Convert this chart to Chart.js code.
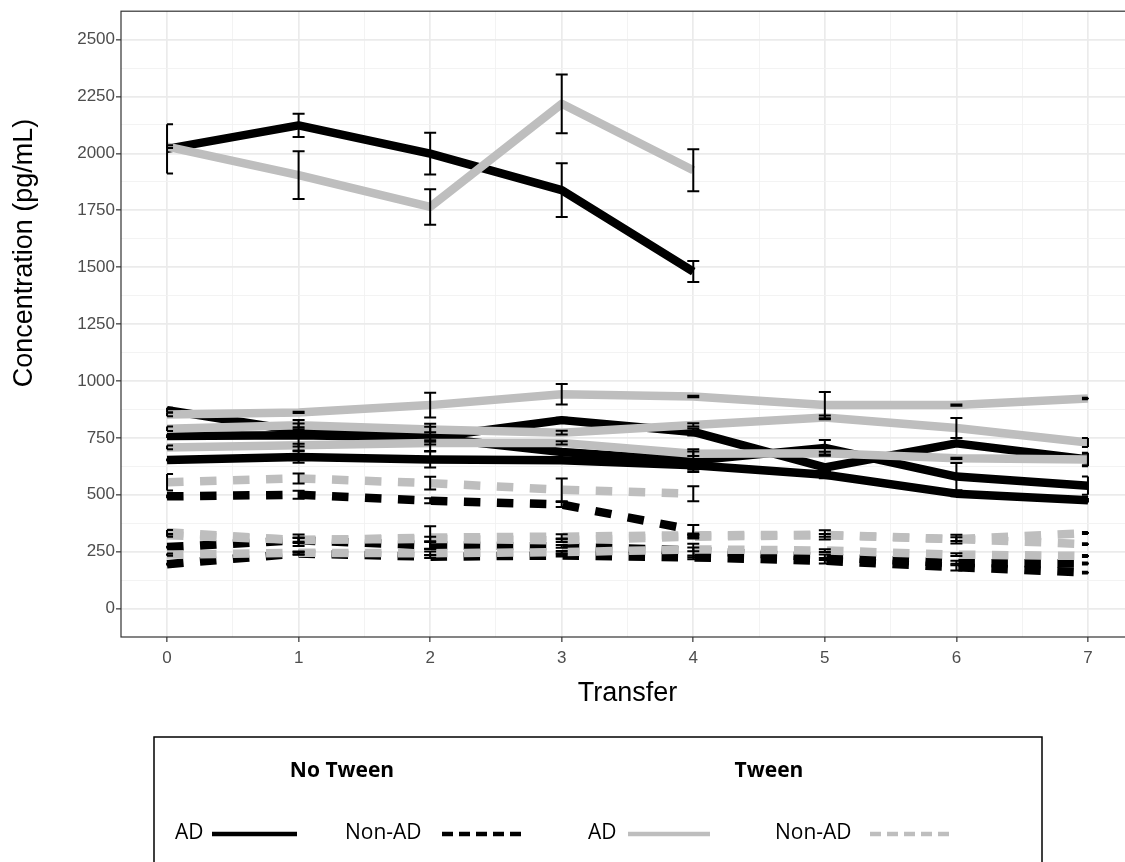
<!DOCTYPE html>
<html>
<head>
<meta charset="utf-8">
<script src="https://cdn.jsdelivr.net/npm/chart.js@4.4.1/dist/chart.umd.min.js"></script>
<style>
  html, body { margin: 0; padding: 0; background: #fff; overflow: hidden; }
  #conc-chart { display: block; }
</style>
</head>
<body>
<canvas id="conc-chart" width="1134" height="862"></canvas>
<script>
// Transfer numbers along the x axis
let transfers = [0, 1, 2, 3, 4, 5, 6, 7]

// No Tween, AD samples (black solid)
let noTweenAD1 = [2020, 2123, 1999, 1839, 1481]
let noTweenAD2 = [872, 780, 752, 828, 776, 620, 726, 655]
let noTweenAD3 = [758, 762, 752, 688, 650, 706, 580, 540]
let noTweenAD4 = [653, 666, 655, 652, 630, 588, 505, 476]

// Tween, AD samples (grey solid)
let tweenAD1 = [2030, 1905, 1765, 2218, 1926]
let tweenAD2 = [853, 862, 894, 942, 932, 894, 894, 923]
let tweenAD3 = [790, 805, 787, 773, 807, 840, 793, 730]
let tweenAD4 = [708, 718, 727, 728, 680, 683, 660, 655]

// No Tween, Non-AD samples (black dashed)
let noTweenNonAD1 = [493, 500, 474, 457, 345]
let noTweenNonAD2 = [270, 300, 278, 273, 255, 225, 200, 198]
let noTweenNonAD3 = [195, 242, 228, 233, 225, 210, 182, 158]

// Tween, Non-AD samples (grey dashed)
let tweenNonAD1 = [555, 572, 551, 522, 505]
let tweenNonAD2 = [335, 300, 312, 316, 322, 324, 305, 332]
let tweenNonAD3 = [322, 302, 306, 300, 316, 322, 305, 283]
let tweenNonAD4 = [237, 245, 243, 248, 260, 255, 237, 231]

// Standard deviations (half length of each error bar)
let noTweenAD1Sd = [108, 51, 92, 118, 46]
let noTweenAD2Sd = [10, 8, 12, 10, 15, 15, 8, 30]
let noTweenAD3Sd = [8, 67, 60, 8, 50, 35, 60, 40]
let noTweenAD4Sd = [6, 25, 35, 8, 20, 15, 12, 10]
let tweenAD1Sd = [6, 105, 78, 129, 92]
let tweenAD2Sd = [8, 3, 54, 45, 3, 58, 3, 3]
let tweenAD3Sd = [10, 8, 12, 8, 7, 8, 44, 20]
let tweenAD4Sd = [8, 6, 6, 7, 10, 6, 3, 25]
let noTweenNonAD1Sd = [8, 18, 11, 11, 22]
let noTweenNonAD2Sd = [6, 25, 15, 6, 30, 12, 10, 4]
let noTweenNonAD3Sd = [6, 6, 6, 4, 8, 12, 15, 4]
let tweenNonAD1Sd = [36, 22, 28, 50, 33]
let tweenNonAD2Sd = [10, 12, 50, 11, 8, 20, 19, 4]
let tweenNonAD3Sd = [6, 8, 10, 8, 8, 6, 8, 4]
let tweenNonAD4Sd = [5, 6, 8, 5, 8, 6, 6, 4]

let black = '#000000'
let grey = '#BEBEBE'
let sansFont = "'Liberation Sans', Arial, sans-serif"

// Build one line dataset from a value array and its sd array
function makeLine(values, sds, color, dashed) {
    return {
        data: values.map(function (v, i) { return {x: transfers[i], y: v} }),
        sd: sds,
        borderColor: color,
        borderWidth: 8.5,
        borderDash: dashed ? [16.5, 16.5] : [],
        borderCapStyle: 'butt',
        borderJoinStyle: 'round',
        pointRadius: 0,
        tension: 0,
        fill: false,
        order: color === black ? 2 : 1 // grey drawn over black
    }
}

let datasets = [
    makeLine(noTweenAD1, noTweenAD1Sd, black, false),
    makeLine(noTweenAD2, noTweenAD2Sd, black, false),
    makeLine(noTweenAD3, noTweenAD3Sd, black, false),
    makeLine(noTweenAD4, noTweenAD4Sd, black, false),
    makeLine(noTweenNonAD1, noTweenNonAD1Sd, black, true),
    makeLine(noTweenNonAD2, noTweenNonAD2Sd, black, true),
    makeLine(noTweenNonAD3, noTweenNonAD3Sd, black, true),
    makeLine(tweenAD1, tweenAD1Sd, grey, false),
    makeLine(tweenAD2, tweenAD2Sd, grey, false),
    makeLine(tweenAD3, tweenAD3Sd, grey, false),
    makeLine(tweenAD4, tweenAD4Sd, grey, false),
    makeLine(tweenNonAD1, tweenNonAD1Sd, grey, true),
    makeLine(tweenNonAD2, tweenNonAD2Sd, grey, true),
    makeLine(tweenNonAD3, tweenNonAD3Sd, grey, true),
    makeLine(tweenNonAD4, tweenNonAD4Sd, grey, true)
]

// Black error bars with caps, caps kept inside the 0..7 range
let errorBars = {
    id: 'errorBars',
    afterDatasetsDraw: function (chart) {
        let c = chart.ctx
        let xs = chart.scales.x
        let ys = chart.scales.y
        let xLo = xs.getPixelForValue(transfers[0])
        let xHi = xs.getPixelForValue(transfers[transfers.length - 1])
        c.save()
        c.strokeStyle = '#000'
        c.lineWidth = 2
        chart.data.datasets.forEach(function (ds) {
            ds.data.forEach(function (p, i) {
                let sd = ds.sd[i]
                let px = xs.getPixelForValue(p.x)
                let top = ys.getPixelForValue(p.y + sd)
                let bot = ys.getPixelForValue(p.y - sd)
                let l = Math.max(px - 6, xLo)
                let r = Math.min(px + 6, xHi)
                c.beginPath()
                c.moveTo(px, top); c.lineTo(px, bot)
                c.moveTo(l, top); c.lineTo(r, top)
                c.moveTo(l, bot); c.lineTo(r, bot)
                c.stroke()
            })
        })
        c.restore()
    }
}

// Panel border and the rotated y axis title
let panelBorder = {
    id: 'panelBorder',
    afterDraw: function (chart) {
        let a = chart.chartArea
        let c = chart.ctx
        c.save()
        c.strokeStyle = '#333333'
        c.lineWidth = 1.2
        c.strokeRect(a.left, a.top, a.right - a.left, a.bottom - a.top)

        c.translate(25, 253)
        c.rotate(-Math.PI / 2)
        c.fillStyle = '#000'
        c.textAlign = 'center'
        c.textBaseline = 'middle'
        c.font = '27px ' + sansFont
        c.fillText('Concentration (pg/mL)', 0, 0)
        c.restore()
    }
}

// Boxed legend below the plot: two groups, each with AD / Non-AD keys
let groupLegend = {
    id: 'groupLegend',
    afterDraw: function (chart) {
        let c = chart.ctx
        c.save()
        c.strokeStyle = '#000'
        c.lineWidth = 1.5
        c.strokeRect(154, 737, 888, 140)

        c.fillStyle = '#000'
        c.textBaseline = 'middle'
        c.textAlign = 'center'
        c.font = "bold 21px 'Open Sans', sans-serif"
        c.fillText('No Tween', 342, 771)
        c.fillText('Tween', 769, 771)

        c.textAlign = 'left'
        c.font = "21px 'Open Sans', sans-serif"
        let rowY = 833
        let keys = [
            {label: 'AD', tx: 175, x1: 212, x2: 297, color: black, dash: []},
            {label: 'Non-AD', tx: 345, x1: 442, x2: 521, color: black, dash: [11, 6]},
            {label: 'AD', tx: 588, x1: 628, x2: 710, color: grey, dash: []},
            {label: 'Non-AD', tx: 775, x1: 870, x2: 955, color: grey, dash: [11, 6]}
        ]
        keys.forEach(function (k) {
            c.fillStyle = '#000'
            c.fillText(k.label, k.tx, rowY)
            c.strokeStyle = k.color
            c.lineWidth = 4.5
            c.lineCap = 'butt'
            c.setLineDash(k.dash)
            c.beginPath()
            c.moveTo(k.x1, rowY + 1)
            c.lineTo(k.x2, rowY + 1)
            c.stroke()
            c.setLineDash([])
        })
        c.restore()
    }
}

function isMajorY(v) { return v % 250 === 0 }
function isMajorX(v) { return v % 1 === 0 }

let canvas = document.querySelector('#conc-chart')
let cxt = canvas.getContext('2d')

let chart = new Chart(cxt, {
    type: 'line',
    data: {datasets: datasets},
    options: {
        responsive: false,
        animation: false,
        events: [],
        layout: {padding: {top: 8, right: 0, bottom: 148, left: 0}},
        plugins: {legend: {display: false}, tooltip: {enabled: false}},
        scales: {
            x: {
                type: 'linear',
                min: -0.35,
                max: 7.35,
                afterBuildTicks: function (s) {
                    let t = []
                    for (let v = 0; v <= 7; v += 0.5) t.push({value: v})
                    s.ticks = t
                },
                afterFit: function (s) { s.height = 77 },
                border: {display: false},
                grid: {
                    color: function (ctx) { return isMajorX(ctx.tick.value) ? '#EBEBEB' : '#F2F2F2' },
                    lineWidth: function (ctx) { return isMajorX(ctx.tick.value) ? 1.7 : 0.9 },
                    tickLength: 5,
                    tickColor: function (ctx) { return isMajorX(ctx.tick.value) ? '#333333' : 'rgba(0,0,0,0)' },
                    tickWidth: 1.2
                },
                ticks: {
                    autoSkip: false,
                    maxRotation: 0,
                    padding: 6,
                    color: '#4D4D4D',
                    font: {family: sansFont, size: 17},
                    callback: function (v) { return isMajorX(v) ? String(v) : '' }
                },
                title: {
                    display: true,
                    text: 'Transfer',
                    color: '#000',
                    font: {family: sansFont, size: 27},
                    padding: {top: 0, bottom: 4}
                }
            },
            y: {
                type: 'linear',
                min: -125,
                max: 2625,
                afterBuildTicks: function (s) {
                    let t = []
                    for (let v = 0; v <= 2500; v += 125) t.push({value: v})
                    s.ticks = t
                },
                afterFit: function (s) { s.width = 121 },
                border: {display: false},
                grid: {
                    color: function (ctx) { return isMajorY(ctx.tick.value) ? '#EBEBEB' : '#F2F2F2' },
                    lineWidth: function (ctx) { return isMajorY(ctx.tick.value) ? 1.7 : 0.9 },
                    tickLength: 5,
                    tickColor: function (ctx) { return isMajorY(ctx.tick.value) ? '#333333' : 'rgba(0,0,0,0)' },
                    tickWidth: 1.2
                },
                ticks: {
                    autoSkip: false,
                    padding: 1,
                    color: '#4D4D4D',
                    font: {family: sansFont, size: 17},
                    callback: function (v) { return isMajorY(v) ? String(v) : '' }
                }
            }
        }
    },
    plugins: [errorBars, panelBorder, groupLegend]
})
</script>
</body>
</html>
